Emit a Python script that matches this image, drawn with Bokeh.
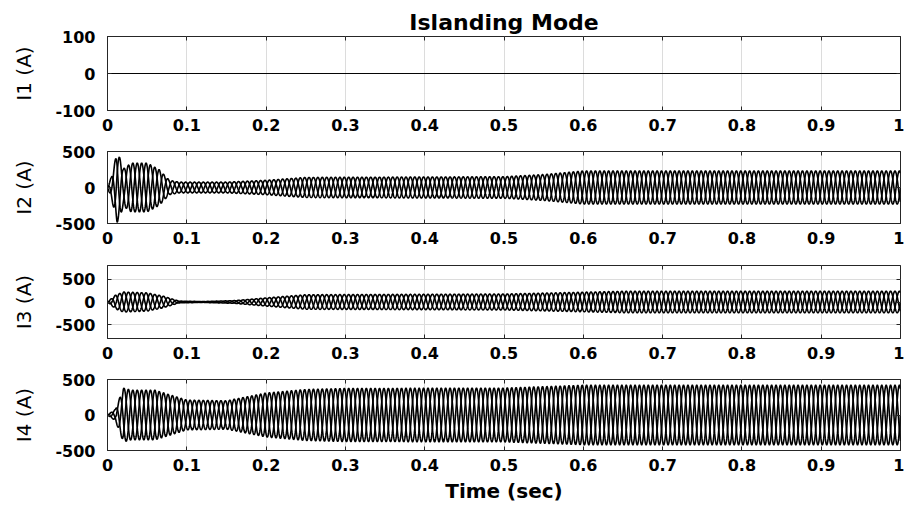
import numpy as np
from bokeh.plotting import figure
from bokeh.layouts import column
from bokeh.models import Range1d, LinearAxis, FixedTicker
from bokeh.embed import file_html
from bokeh.resources import INLINE

# ---------------- data ----------------
title_text = "Islanding Mode"
x_label = "Time (sec)"
x_ticks = [0, 0.1, 0.2, 0.3, 0.4, 0.5, 0.6, 0.7, 0.8, 0.9, 1]
x_tick_labels = ["0", "0.1", "0.2", "0.3", "0.4", "0.5", "0.6", "0.7", "0.8", "0.9", "1"]

freq_hz = 60                 # three-phase currents
phase_deg = [0, -120, 120]

# peak-current envelopes (A) at break times (s)
i1_t = [0.0, 1.0]
i1_amp = [0, 0]

i2_t = [0.0, 0.005, 0.012, 0.016, 0.02, 0.03, 0.05, 0.065, 0.078, 0.09, 0.15, 0.2, 0.25, 0.5, 0.55, 0.6, 1.0]
i2_amp = [0, 150, 490, 400, 260, 340, 340, 250, 100, 75, 75, 100, 140, 150, 180, 230, 230]

i3_t = [0.0, 0.01, 0.02, 0.05, 0.07, 0.09, 0.12, 0.16, 0.2, 0.25, 0.5, 0.6, 0.65, 1.0]
i3_amp = [0, 150, 220, 200, 130, 20, 10, 30, 90, 160, 175, 215, 235, 235]

i4_t = [0.0, 0.01, 0.02, 0.03, 0.06, 0.08, 0.1, 0.15, 0.2, 0.25, 0.3, 0.5, 0.6, 1.0]
i4_amp = [0, 80, 380, 350, 350, 280, 210, 200, 310, 360, 375, 380, 420, 420]

panel_labels = ["I1 (A)", "I2 (A)", "I3 (A)", "I4 (A)"]
panel_ylim = [100, 500, 800, 500]
panel_yticks = [[-100, 0, 100], [-500, 0, 500], [-500, 0, 500], [-500, 0, 500]]
panel_ytick_labels = [["-100", "0", "100"], ["-500", "0", "500"], ["-500", "0", "500"], ["-500", "0", "500"]]
panel_line_width = [1, 1.6, 1.6, 1.6]
envelopes = [(i1_t, i1_amp), (i2_t, i2_amp), (i3_t, i3_amp), (i4_t, i4_amp)]

# ---------------- layout ----------------
fig_heights = [140, 115, 115, 135]
tops = [36, 11, 10, 9]
bottoms = [30, 32, 32, 53]

FONT = "DejaVu Sans"
INK = "#262626"

t = np.linspace(0.0, 1.0, 2881)

figs = []
for k in range(4):
    p = figure(width=904, height=fig_heights[k],
               x_range=Range1d(0, 1),
               y_range=Range1d(-panel_ylim[k], panel_ylim[k]),
               output_backend="svg", toolbar_location=None,
               min_border_left=107, min_border_right=4,
               min_border_top=tops[k], min_border_bottom=bottoms[k],
               background_fill_color="white", border_fill_color="white")
    p.outline_line_color = INK
    p.outline_line_width = 1

    # grid
    p.xgrid.ticker = FixedTicker(ticks=x_ticks)
    p.ygrid.ticker = FixedTicker(ticks=panel_yticks[k])
    p.grid.grid_line_color = "#dcdcdc"
    p.grid.grid_line_width = 1

    # bottom axis
    xa = p.xaxis[0]
    xa.ticker = FixedTicker(ticks=x_ticks)
    xa.major_label_overrides = dict(zip(x_ticks, x_tick_labels))
    # left axis
    ya = p.yaxis[0]
    ya.ticker = FixedTicker(ticks=panel_yticks[k])
    ya.major_label_overrides = dict(zip(panel_yticks[k], panel_ytick_labels[k]))
    ya.axis_label = panel_labels[k]
    ya.axis_label_text_font = FONT
    ya.axis_label_text_font_style = "normal"
    ya.axis_label_text_font_size = "20px"
    ya.axis_label_text_color = "black"
    ya.axis_label_standoff = 16

    for ax in (xa, ya):
        ax.major_tick_in = 4
        ax.major_tick_out = 0
        ax.minor_tick_in = 0
        ax.minor_tick_out = 0
        ax.axis_line_color = INK
        ax.major_tick_line_color = INK
        ax.major_label_text_font = FONT
        ax.major_label_text_font_style = "bold"
        ax.major_label_text_font_size = "16px"
        ax.major_label_text_color = "black"
    xa.major_label_standoff = 8
    ya.major_label_standoff = 12

    # mirrored ticks (top and right), labels not drawn
    top_ax = LinearAxis(ticker=FixedTicker(ticks=x_ticks), major_tick_in=4, major_tick_out=0,
                        minor_tick_in=0, minor_tick_out=0, axis_line_color=None,
                        major_tick_line_color=INK, major_label_text_font_size="1px",
                        major_label_text_color=None, major_label_standoff=0)
    right_ax = LinearAxis(ticker=FixedTicker(ticks=panel_yticks[k]), major_tick_in=4, major_tick_out=0,
                          minor_tick_in=0, minor_tick_out=0, axis_line_color=None,
                          major_tick_line_color=INK, major_label_text_font_size="1px",
                          major_label_text_color=None, major_label_standoff=0)
    p.add_layout(top_ax, "above")
    p.add_layout(right_ax, "right")

    if k == 0:
        p.title.text = title_text
        p.title.align = "center"
        p.title.text_font = FONT
        p.title.text_font_style = "bold"
        p.title.text_font_size = "22px"
        p.title.text_color = "black"
        p.title.standoff = 3
    if k == 3:
        xa.axis_label = x_label
        xa.axis_label_text_font = FONT
        xa.axis_label_text_font_style = "bold"
        xa.axis_label_text_font_size = "20px"
        xa.axis_label_text_color = "black"
        xa.axis_label_standoff = 5

    env_t, env_a = envelopes[k]
    amp = np.interp(t, env_t, env_a)
    for ph in phase_deg:
        y = amp * np.sin(2 * np.pi * freq_hz * t + np.deg2rad(ph))
        p.line(t, y, line_color="black", line_width=panel_line_width[k])

    figs.append(p)

layout = column(*figs, spacing=0)
open("out.html", "w").write(file_html(layout, INLINE))
